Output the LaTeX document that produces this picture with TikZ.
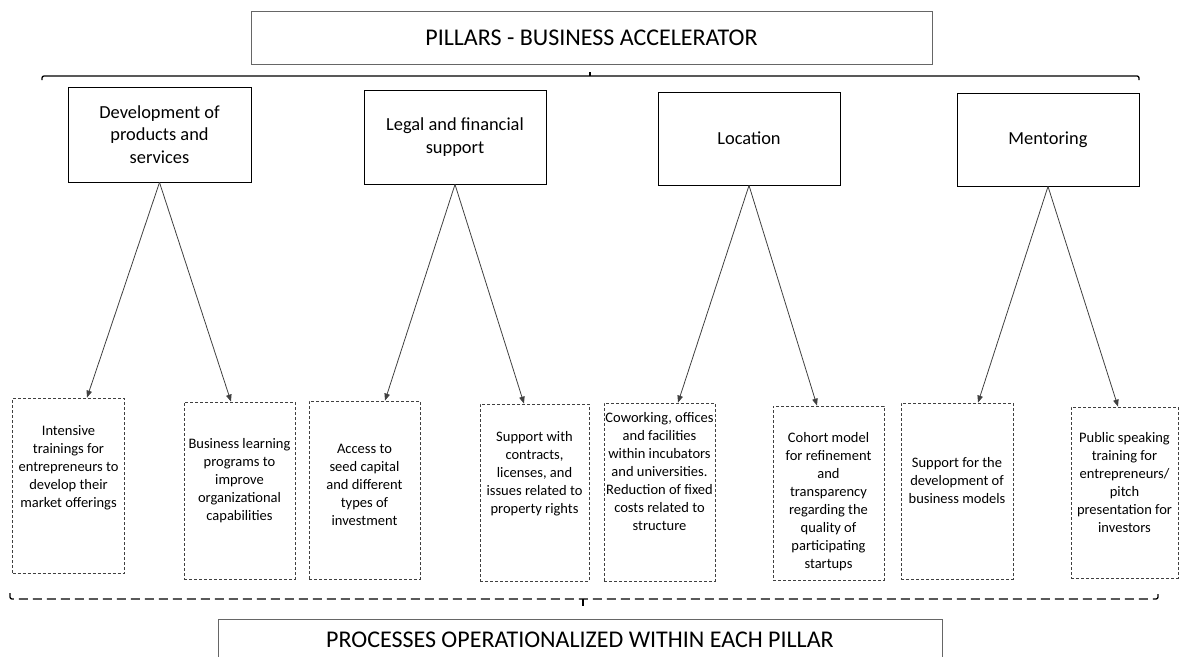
\documentclass[tikz,border=0pt]{standalone}
\usepackage{fontspec}
\setmainfont{Carlito}
\usetikzlibrary{arrows.meta,calc}
\begin{document}
\begin{tikzpicture}[x=1pt,y=-1pt,
  titlebox/.style={draw=black!60, line width=0.9pt, inner sep=0pt, font=\fontsize{24}{28}\selectfont},
  pillar/.style={draw=black, line width=0.9pt, inner sep=0pt, align=center, font=\fontsize{18.4}{22.5}\selectfont},
  procbox/.style={draw=black!75, dash pattern=on 3pt off 2pt, line width=0.8pt, inner sep=0pt},
  proctext/.style={align=center, inner sep=0pt, font=\fontsize{14.5}{18}\selectfont},
  arr/.style={draw=black!75, line width=0.8pt, -{Triangle[length=7pt,width=5.5pt]}},
  bracesolid/.style={line width=1.3pt, rounded corners=2pt},
  bracedash/.style={line width=1.3pt, dash pattern=on 9pt off 5pt, rounded corners=2pt},
]
\clip (0,0) rectangle (1180,656);

% title
\node[titlebox, minimum width=681pt, minimum height=53pt] (top) at (591.5,37.5) {PILLARS - BUSINESS ACCELERATOR};

% top brace
\coordinate (tbL) at (42,80);
\coordinate (tbR) at (1139,80);
\coordinate (tbM) at (590,76);
\draw[bracesolid] (tbL) |- (tbM) -| (tbR);
\draw[line width=1.3pt] (tbM) -- ([yshift=4pt]tbM);

% pillars
\node[pillar, minimum width=183pt, minimum height=95pt] (d1) at (159.5,134.5) {Development of\\products and\\services};
\node[pillar, minimum width=182pt, minimum height=94pt] (d2) at (455,137) {Legal and financial\\support};
\node[pillar, minimum width=182pt, minimum height=93pt] (d3) at (749,138.5) {Location};
\node[pillar, minimum width=182pt, minimum height=93pt] (d4) at (1048,139.5) {Mentoring};

% process boxes
\node[procbox, minimum width=111.5pt, minimum height=175pt] (p1) at (68.25,485.5) {};
\node[procbox, minimum width=111pt, minimum height=177pt] (p2) at (239.5,490.5) {};
\node[procbox, minimum width=111pt, minimum height=178pt] (p3) at (364.5,490) {};
\node[procbox, minimum width=109pt, minimum height=177pt] (p4) at (534.5,492.5) {};
\node[procbox, minimum width=111pt, minimum height=178pt] (p5) at (659.5,492) {};
\node[procbox, minimum width=111pt, minimum height=174pt] (p6) at (828.5,493) {};
\node[procbox, minimum width=112pt, minimum height=176pt] (p7) at (957,491) {};
\node[procbox, minimum width=107pt, minimum height=171pt] (p8) at (1124.5,492.5) {};

% process texts
\node[proctext] (t1) at (68.5,467.5) {Intensive\\trainings for\\entrepreneurs to\\develop their\\market offerings};
\node[proctext] (t2) at (239.5,481) {Business learning\\programs to\\improve\\organizational\\capabilities};
\node[proctext] (t3) at (364.5,484.5) {Access to\\seed capital\\and different\\types of\\investment};
\node[proctext] (t4) at (534.5,473.5) {Support with\\contracts,\\licenses, and\\issues related to\\property rights};
\node[proctext] (t5) at (659.5,472) {Coworking, offices\\and facilities\\within incubators\\and universities.\\Reduction of fixed\\costs related to\\structure};
\node[proctext] (t6) at (828.5,502) {Cohort model\\for refinement\\and\\transparency\\regarding the\\quality of\\participating\\startups};
\node[proctext] (t7) at (957,480.5) {Support for the\\development of\\business models};
\node[proctext] (t8) at (1124.5,482.5) {Public speaking\\training for\\entrepreneurs/\\pitch\\presentation for\\investors};

% arrows
\draw[arr] (d1.south) -- ([xshift=18.75pt]p1.north);
\draw[arr] (d1.south) -- ([xshift=-8.5pt]p2.north);
\draw[arr] (d2.south) -- ([xshift=20.5pt]p3.north);
\draw[arr] (d2.south) -- ([xshift=-10.5pt]p4.north);
\draw[arr] (d3.south) -- ([xshift=18.5pt]p5.north);
\draw[arr] (d3.south) -- ([xshift=-11.5pt]p6.north);
\draw[arr] (d4.south) -- ([xshift=21pt]p7.north);
\draw[arr] (d4.south) -- ([xshift=-6.5pt]p8.north);

% bottom brace
\coordinate (bbL) at (10,593);
\coordinate (bbR) at (1158,593);
\coordinate (bbM) at (583,599);
\draw[bracedash] (bbL) |- (bbM) -| (bbR);
\draw[line width=1.3pt] (bbM) -- ([yshift=-7pt]bbM);

% bottom title
\node[titlebox, minimum width=724pt, minimum height=41pt] (bottom) at (580,639.5) {PROCESSES OPERATIONALIZED WITHIN EACH PILLAR};
\end{tikzpicture}
\end{document}
